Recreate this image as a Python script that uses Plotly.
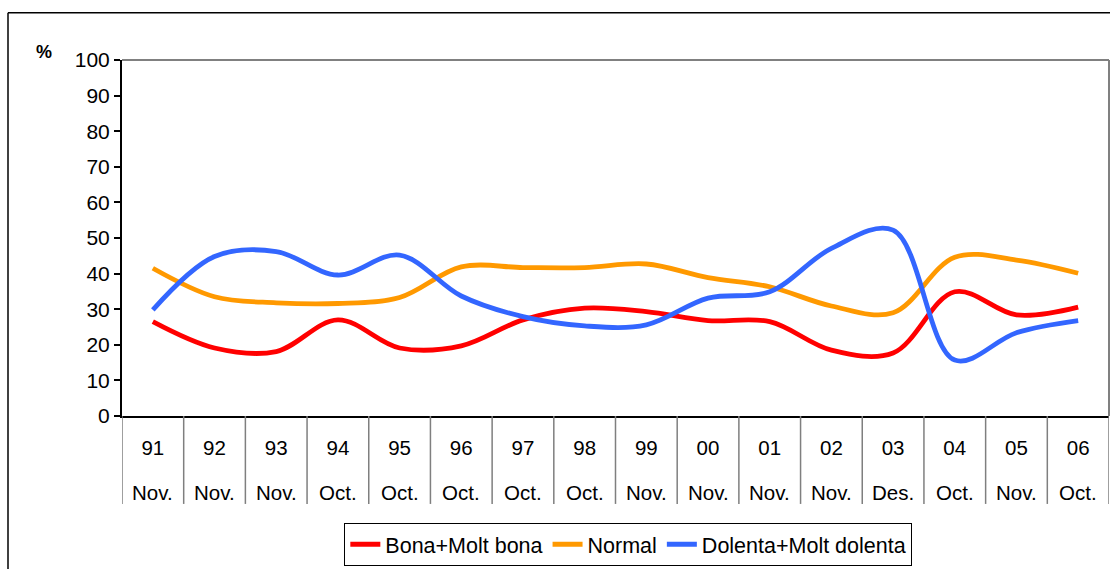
import plotly.graph_objects as go

years = ["91", "92", "93", "94", "95", "96", "97", "98", "99", "00", "01", "02", "03", "04", "05", "06"]
months = ["Nov.", "Nov.", "Nov.", "Oct.", "Oct.", "Oct.", "Oct.", "Oct.", "Nov.", "Nov.", "Nov.", "Nov.", "Des.", "Oct.", "Nov.", "Oct."]

bona = [26.5, 19.1, 18.1, 27.0, 19.1, 19.7, 27.0, 30.3, 29.3, 26.8, 26.5, 18.5, 17.7, 34.9, 28.4, 30.6]
normal = [41.5, 33.5, 31.8, 31.6, 33.3, 41.9, 41.7, 41.7, 42.7, 38.9, 36.3, 30.9, 29.0, 44.6, 43.8, 40.1]
dolenta = [29.8, 44.8, 46.2, 39.6, 45.2, 33.7, 27.9, 25.3, 25.6, 33.1, 34.9, 47.1, 52.2, 15.7, 23.4, 26.8]

series = [
    ("Bona+Molt bona", bona, "#FF0000"),
    ("Normal", normal, "#FF9900"),
    ("Dolenta+Molt dolenta", dolenta, "#3366FF"),
]

FONT = "Arial, 'Liberation Sans', sans-serif"

fig = go.Figure()
for name, vals, col in series:
    fig.add_trace(go.Scatter(
        x=list(range(len(years))), y=vals, name=name, mode="lines",
        line=dict(color=col, width=4.8, shape="spline", smoothing=1.0),
    ))

n = len(years)
shapes = []
# category dividers below the axis
for i in range(n + 1):
    shapes.append(dict(type="line", xref="x", yref="paper", x0=i - 0.5, x1=i - 0.5,
                       y0=0, y1=-0.247, line=dict(color="#7f7f7f", width=1.5)))
# plot area top and right border (gray)
shapes.append(dict(type="line", xref="paper", yref="paper", x0=0, x1=1, y0=1, y1=1,
                   line=dict(color="#808080", width=2)))
shapes.append(dict(type="line", xref="paper", yref="paper", x0=1, x1=1, y0=0, y1=1,
                   line=dict(color="#808080", width=2)))
# outer chart frame (left and top)
shapes.append(dict(type="line", xref="paper", yref="paper", x0=-0.1155, x1=1.2, y0=1.1325, y1=1.1325,
                   line=dict(color="black", width=1.5)))
shapes.append(dict(type="line", xref="paper", yref="paper", x0=-0.1155, x1=-0.1155, y0=-0.6, y1=1.1325,
                   line=dict(color="black", width=1.5)))

annotations = []
for i, m in enumerate(months):
    annotations.append(dict(x=i, y=-0.214, xref="x", yref="paper", text=m,
                            showarrow=False, font=dict(family=FONT, size=20.5, color="black"),
                            yanchor="middle", xanchor="center"))
annotations.append(dict(x=-0.079, y=1.022, xref="paper", yref="paper", text="<b>%</b>",
                        showarrow=False, font=dict(family=FONT, size=18, color="black"),
                        xanchor="center", yanchor="middle"))

fig.update_layout(
    width=1110, height=569,
    margin=dict(l=122, r=1, t=60, b=153),
    paper_bgcolor="white", plot_bgcolor="white",
    font=dict(family=FONT, size=20, color="black"),
    showlegend=True,
    legend=dict(orientation="h", x=0.513, xanchor="center", y=-0.300, yanchor="top",
                bordercolor="black", borderwidth=1, bgcolor="white",
                font=dict(family=FONT, size=21.5, color="black"),
                itemwidth=30, tracegroupgap=0),
    shapes=shapes,
    annotations=annotations,
    xaxis=dict(tickmode="array", tickvals=list(range(n)), ticktext=years,
               range=[-0.5, n - 0.5], showgrid=False, zeroline=False,
               showline=True, linecolor="black", linewidth=2, ticks="",
               tickfont=dict(family=FONT, size=20.5, color="black"),
               ticklabelstandoff=12),
    yaxis=dict(range=[0, 100], dtick=10, showgrid=False, zeroline=False,
               showline=True, linecolor="black", linewidth=2,
               ticks="outside", ticklen=6, tickcolor="black", tickwidth=1.5,
               tickfont=dict(family=FONT, size=21, color="black")),
)

fig.write_html(
    "out.html",
    config={"displayModeBar": False},
    post_script="document.body.style.margin='0';document.body.style.overflow='hidden';",
)
